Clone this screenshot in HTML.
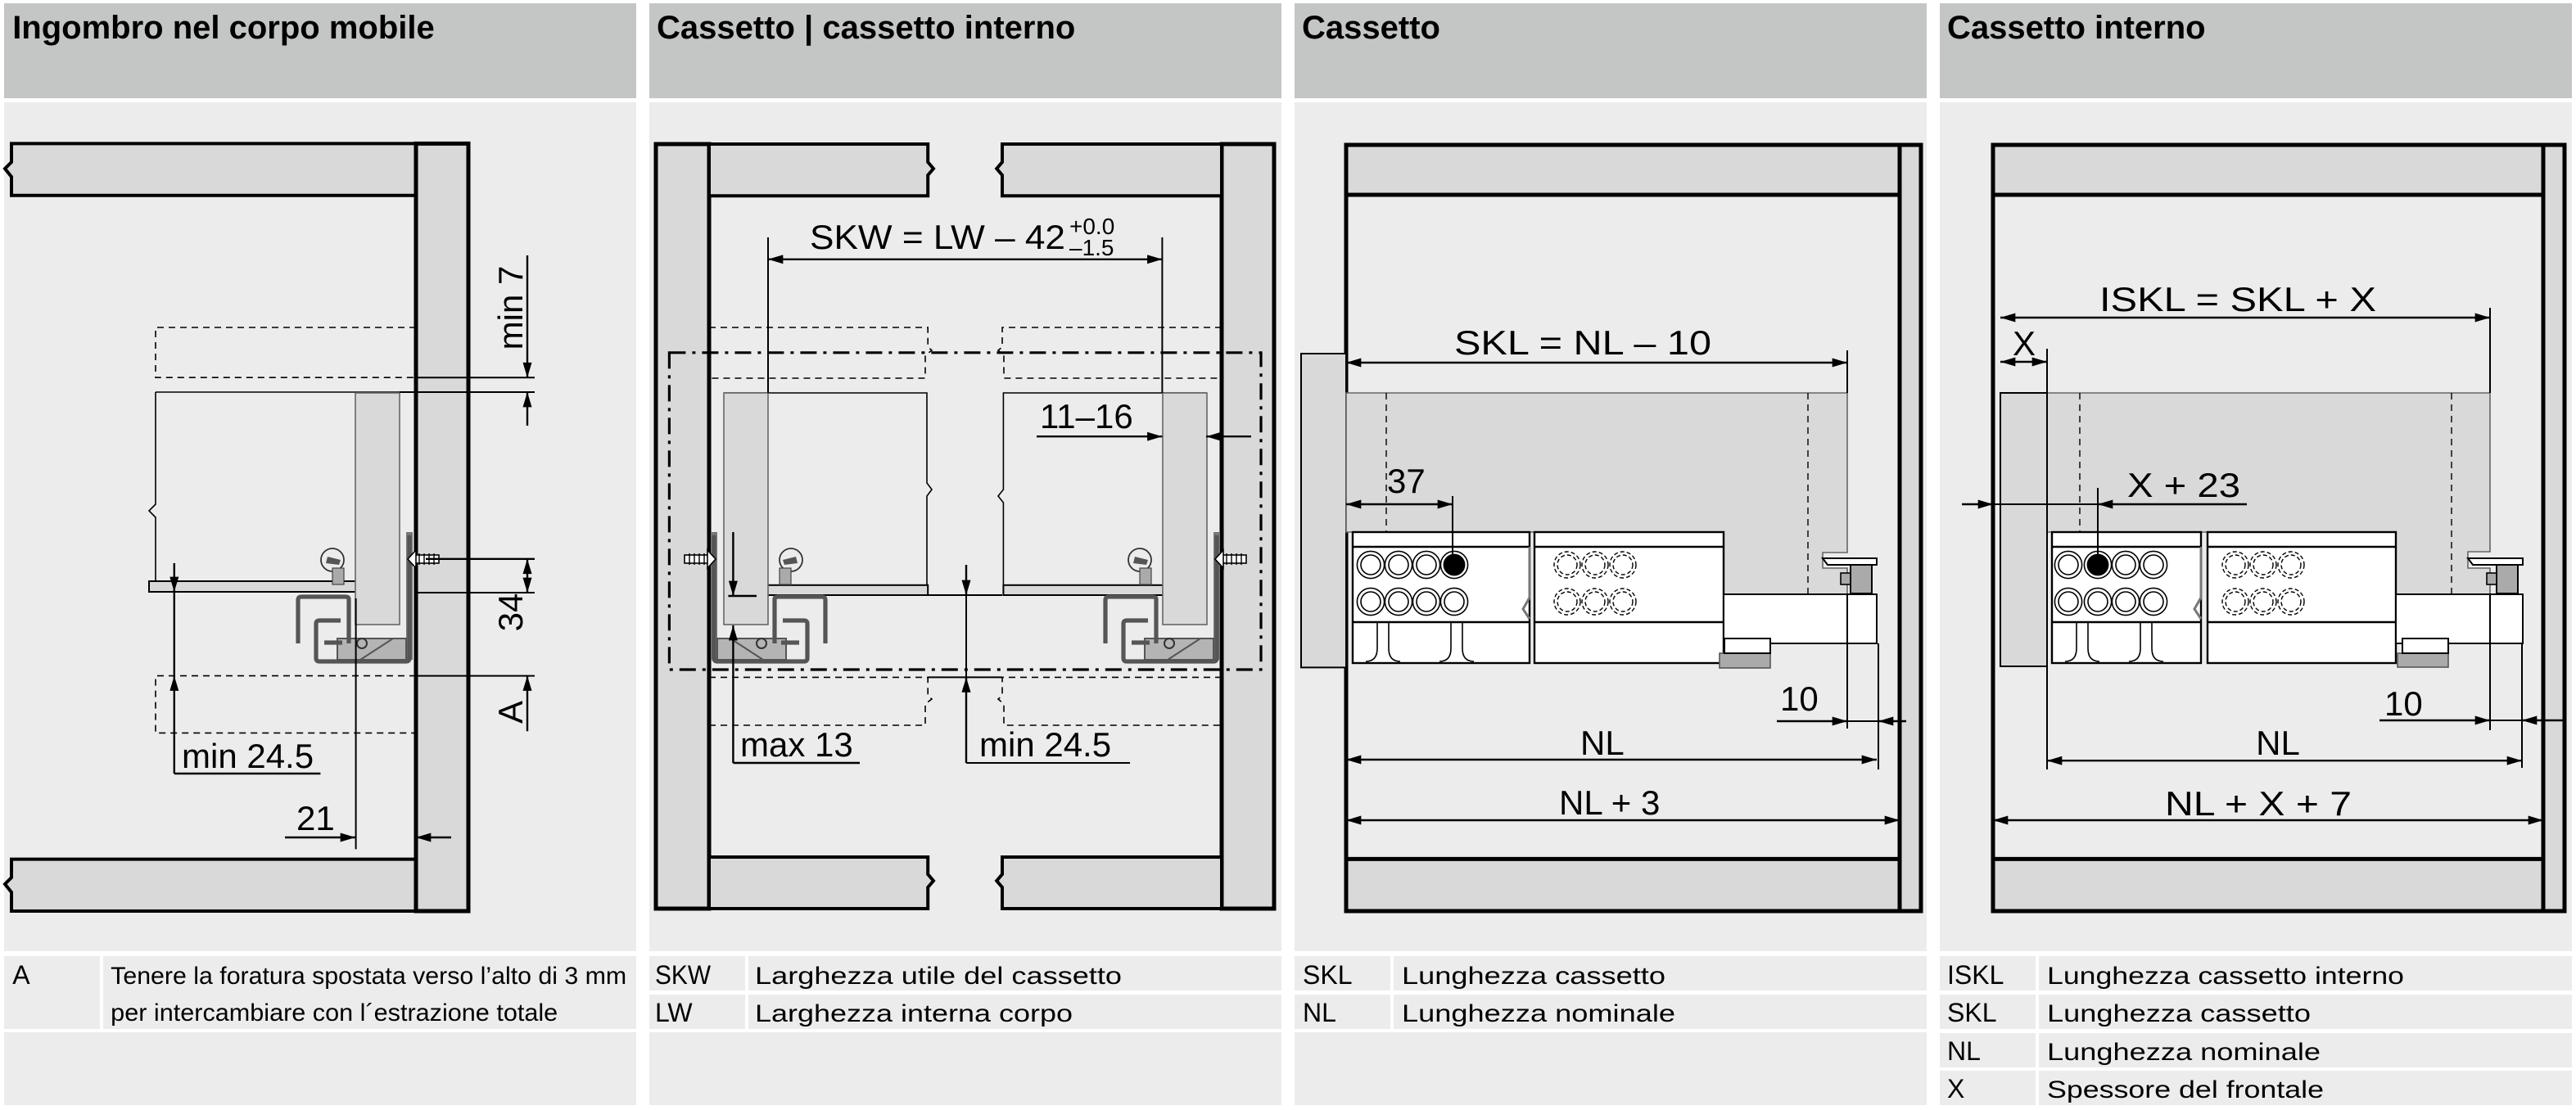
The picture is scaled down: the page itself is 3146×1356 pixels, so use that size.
<!DOCTYPE html>
<html><head><meta charset="utf-8">
<style>
html,body{margin:0;padding:0;background:#fff;width:3146px;height:1356px;overflow:hidden}
svg{display:block}
text{font-family:"Liberation Sans",Arial,sans-serif;fill:#000}
.h{font-weight:bold;font-size:20px}
.d{font-size:21px}
.l{font-size:15px}
.k{font-size:16px}
</style></head><body>
<svg width="3146" height="1356" viewBox="0 0 1573 678" preserveAspectRatio="none" xmlns="http://www.w3.org/2000/svg">
<defs>
<marker id="a" viewBox="0 0 10 6" refX="10" refY="3" markerWidth="10" markerHeight="5.5" markerUnits="userSpaceOnUse" orient="auto-start-reverse"><path d="M0,0 L10,3 L0,6z" fill="#000"/></marker>
<g id="run">
 <rect x="442" y="240" width="27" height="141.5" fill="#d9d9d9" stroke="#666" stroke-width="0.8"/>
 <rect x="434" y="325" width="4" height="78" fill="#777"/>
 <path d="M438,390 H480 V403 H438Z" fill="#b4b4b4" stroke="#555" stroke-width="1"/>
 <path d="M446,390 L466,403" stroke="#555" stroke-width="1"/>
 <circle cx="465" cy="393" r="3" fill="none" stroke="#333" stroke-width="1"/>
 <path d="M473,393 V366 Q473,364.5 475,364.5 H502 Q504,364.5 504,366.5 V393" fill="none" stroke="#555" stroke-width="2.6"/>
 <path d="M478,379 H491 Q493,379 493,381 V402 Q493,404 491,404 H438 Q436,404 436,402 V327" fill="none" stroke="#555" stroke-width="2.6"/>
 <path d="M477,392.5 H488" stroke="#555" stroke-width="2.6"/>
 <circle cx="483" cy="342" r="7" fill="none" stroke="#333" stroke-width="0.9"/>
 <rect x="476" y="347" width="7" height="10" fill="#aaa" stroke="#444" stroke-width="0.6"/>
 <path d="M478,342 L486,340 L487,344 L479,345Z" fill="#555"/>
 <rect x="418" y="339" width="15" height="5" fill="#fff" stroke="#000" stroke-width="0.8"/>
 <path d="M421,338 V345 M424,338 V345 M427,338 V345 M430,338 V345" stroke="#000" stroke-width="0.7"/>
 <path d="M432,336 L437,341.5 L432,347Z" fill="#fff" stroke="#000" stroke-width="0.8"/>
</g>
</defs>
<rect width="1573" height="678" fill="#fff"/>

<g fill="#c4c6c5">
<rect x="2.5" y="2" width="386" height="58"/><rect x="396.5" y="2" width="386" height="58"/>
<rect x="790.5" y="2" width="386" height="58"/><rect x="1184.5" y="2" width="386" height="58"/>
</g>
<g fill="#ececec">
<rect x="2.5" y="62.5" width="386" height="518.5"/><rect x="396.5" y="62.5" width="386" height="518.5"/>
<rect x="790.5" y="62.5" width="386" height="518.5"/><rect x="1184.5" y="62.5" width="386" height="518.5"/>
<rect x="2.5" y="584" width="58.5" height="44.5"/><rect x="63" y="584" width="325.5" height="44.5"/>
<rect x="2.5" y="630.5" width="386" height="44.5"/>
<rect x="396.5" y="584" width="58.5" height="21"/><rect x="457" y="584" width="325.5" height="21"/>
<rect x="396.5" y="607.5" width="58.5" height="21"/><rect x="457" y="607.5" width="325.5" height="21"/>
<rect x="396.5" y="630.5" width="386" height="44.5"/>
<rect x="790.5" y="584" width="58.5" height="21"/><rect x="851" y="584" width="325.5" height="21"/>
<rect x="790.5" y="607.5" width="58.5" height="21"/><rect x="851" y="607.5" width="325.5" height="21"/>
<rect x="790.5" y="630.5" width="386" height="44.5"/>
<rect x="1184.5" y="584" width="58.5" height="21"/><rect x="1245" y="584" width="325.5" height="21"/>
<rect x="1184.5" y="607.5" width="58.5" height="21"/><rect x="1245" y="607.5" width="325.5" height="21"/>
<rect x="1184.5" y="631" width="58.5" height="21"/><rect x="1245" y="631" width="325.5" height="21"/>
<rect x="1184.5" y="654" width="58.5" height="21"/><rect x="1245" y="654" width="325.5" height="21"/>
</g>

<text class="h" x="7.6" y="23.4">Ingombro nel corpo mobile</text>
<text class="h" x="401" y="23.4">Cassetto | cassetto interno</text>
<text class="h" x="795" y="23.4">Cassetto</text>
<text class="h" x="1189" y="23.4">Cassetto interno</text>

<text class="k" x="7.6" y="601">A</text>
<text class="l" x="67.6" y="601" textLength="315" lengthAdjust="spacingAndGlyphs">Tenere la foratura spostata verso l’alto di 3 mm</text>
<text class="l" x="67.6" y="623.4" textLength="273" lengthAdjust="spacingAndGlyphs">per intercambiare con l´estrazione totale</text>
<text class="k" x="400" y="601" textLength="34" lengthAdjust="spacingAndGlyphs">SKW</text>
<text class="l" x="461" y="601" textLength="224" lengthAdjust="spacingAndGlyphs">Larghezza utile del cassetto</text>
<text class="k" x="400" y="624">LW</text>
<text class="l" x="461" y="624" textLength="194" lengthAdjust="spacingAndGlyphs">Larghezza interna corpo</text>
<text class="k" x="795.5" y="601">SKL</text>
<text class="l" x="856" y="601" textLength="161" lengthAdjust="spacingAndGlyphs">Lunghezza cassetto</text>
<text class="k" x="795.5" y="624">NL</text>
<text class="l" x="856" y="624" textLength="167" lengthAdjust="spacingAndGlyphs">Lunghezza nominale</text>
<text class="k" x="1189" y="601">ISKL</text>
<text class="l" x="1250" y="601" textLength="218" lengthAdjust="spacingAndGlyphs">Lunghezza cassetto interno</text>
<text class="k" x="1189" y="624">SKL</text>
<text class="l" x="1250" y="624" textLength="161" lengthAdjust="spacingAndGlyphs">Lunghezza cassetto</text>
<text class="k" x="1189" y="647.5">NL</text>
<text class="l" x="1250" y="647.5" textLength="167" lengthAdjust="spacingAndGlyphs">Lunghezza nominale</text>
<text class="k" x="1189" y="670.5">X</text>
<text class="l" x="1250" y="670.5" textLength="169" lengthAdjust="spacingAndGlyphs">Spessore del frontale</text>

<!-- PANEL 1 -->
<g stroke="#000" fill="#d9d9d9">
<path d="M7,87.7 H254 V119.4 H7 V108 L3,103 L7,99 Z" stroke-width="2"/>
<path d="M7,524.8 H254 V556.5 H7 V545 L3,540 L7,536 Z" stroke-width="2"/>
<rect x="254" y="87.7" width="32" height="468.8" stroke-width="2.5"/>
</g>
<g fill="none" stroke="#000" stroke-width="0.8" stroke-dasharray="4,3">
<path d="M254,200 H95 V230.6 H254"/>
<path d="M254,412.8 H95 V447.7 H254"/>
</g>
<path d="M95,239.5 H244 M95,239.5 V308 L91,312 L95,316 V355" fill="none" stroke="#000" stroke-width="0.8"/>
<rect x="91" y="355" width="133.5" height="6.5" fill="#d9d9d9" stroke="#000" stroke-width="1"/>
<use href="#run" transform="translate(686,0) scale(-1,1)"/>
<g stroke="#000" stroke-width="1">
<path d="M254,230.6 H326.5 M244,239.5 H326.5 M254,362 H326.5 M254,412.8 H326.5"/>
<path d="M260,341.4 H326.5" stroke-width="1.2"/>
</g>
<g stroke="#000" stroke-width="1.2" fill="none">
<path d="M322,156 V230.6" marker-end="url(#a)"/>
<path d="M322,260 V239.5" marker-end="url(#a)"/>
<path d="M322,341.4 V362" marker-start="url(#a)" marker-end="url(#a)"/>
<path d="M322,446.6 V412.8" marker-end="url(#a)"/>
<path d="M106.4,344 V361.5" marker-end="url(#a)"/>
<path d="M106.4,472.5 V412.8" marker-end="url(#a)"/>
<path d="M106.4,361.5 V412.8 M106.4,472.5 H195.7"/>
<path d="M174,511.5 H217" marker-end="url(#a)"/>
<path d="M275.5,511.5 H254" marker-end="url(#a)"/>
<path d="M217.3,365.5 V518.7" stroke-width="1"/>
</g>
<text class="d" transform="translate(319,188) rotate(-90)" text-anchor="middle">min 7</text>
<text class="d" transform="translate(319,374) rotate(-90)" text-anchor="middle">34</text>
<text class="d" transform="translate(319,435) rotate(-90)" text-anchor="middle">A</text>
<text class="d" x="111" y="469">min 24.5</text>
<text class="d" x="181" y="507">21</text>

<!-- PANEL 2 -->
<g stroke="#000" fill="#d9d9d9" stroke-width="2">
<rect x="400.5" y="88" width="32.5" height="467" stroke-width="2.5"/>
<rect x="746" y="88" width="32" height="467" stroke-width="2.5"/>
<path d="M433,88 H566.6 V99 L570,103 L566.6,107 V119.6 H433Z"/>
<path d="M746,88 H612 V99 L608.6,103 L612,107 V119.6 H746Z"/>
<path d="M433,523.5 H566.6 V534 L570,538 L566.6,542 V555 H433Z"/>
<path d="M746,523.5 H612 V534 L608.6,538 L612,542 V555 H746Z"/>
</g>
<g fill="none" stroke="#000" stroke-width="0.8" stroke-dasharray="4,3">
<path d="M433,200 H566.6 V212 L569,214 L565,217 V231 H433"/>
<path d="M746,200 H612 V212 L609.5,214 L613,217 V231 H746"/>
<path d="M433,413.7 H566.6 V425 L569,427 L565,430 V443 H433"/>
<path d="M746,413.7 H612 V425 L609.5,427 L613,430 V443 H746"/>
</g>
<path d="M408.7,215.4 H770 V409 H408.7Z" fill="none" stroke="#000" stroke-width="1.6" stroke-dasharray="10,4,2,4"/>
<g fill="none" stroke="#000" stroke-width="0.8">
<path d="M442,240 H566 V295 L569,299 L566,303 V357"/>
<path d="M736.5,240 H612.7 V299 L609.5,303 L612.7,307 V357"/>
</g>
<rect x="461.7" y="357.4" width="104.9" height="6.1" fill="#d9d9d9" stroke="#000" stroke-width="1"/>
<rect x="612.7" y="357.4" width="111.3" height="6.1" fill="#d9d9d9" stroke="#000" stroke-width="1"/>
<use href="#run"/>
<use href="#run" transform="translate(1179,0) scale(-1,1)"/>
<g stroke="#000" stroke-width="1.2" fill="none">
<path d="M469,145 V240 M709.7,145 V240" stroke-width="1"/>
<path d="M469,158.4 H709.7" marker-start="url(#a)" marker-end="url(#a)"/>
<path d="M633,266.6 H709.7" marker-end="url(#a)"/>
<path d="M764,266.6 H736.5" marker-end="url(#a)"/>
<path d="M447.7,325 V364" marker-end="url(#a)"/>
<path d="M447.7,466 V382" marker-end="url(#a)"/>
<path d="M447.7,466 H525 M444.7,364 H462" />
<path d="M590,345 V363.5" marker-end="url(#a)"/>
<path d="M590,466 V413.7" marker-end="url(#a)"/>
<path d="M566.6,363.5 H612 M566.6,413.7 H612 M590,466 H690 M590,363.5 V413.7" stroke-width="1"/>
</g>
<text class="d" x="494.5" y="152" textLength="156" lengthAdjust="spacingAndGlyphs">SKW = LW – 42</text>
<text x="653" y="143" style="font-size:14px">+0.0</text>
<text x="653" y="156" style="font-size:14px">–1.5</text>
<text class="d" x="635" y="261.6">11–16</text>
<text class="d" x="452" y="462">max 13</text>
<text class="d" x="598" y="462">min 24.5</text>

<!-- PANEL 3 -->
<rect x="822" y="88.5" width="338" height="30.5" fill="#d9d9d9"/>
<rect x="822" y="524.7" width="338" height="32" fill="#d9d9d9"/>
<rect x="1160" y="88.5" width="13" height="468" fill="#d9d9d9"/>
<g fill="none" stroke="#000" stroke-width="2.5">
<rect x="822" y="88.5" width="351" height="468"/>
<path d="M822,119 H1160 M822,524.7 H1160 M1160,88.5 V556.5"/>
</g>
<rect x="794.5" y="216" width="27.5" height="191.7" fill="#d9d9d9" stroke="#000" stroke-width="1"/>
<path d="M822,240 H1128 V337.5 H1113 V347 H1128 V363 H1052 V325 H822Z" fill="#d9d9d9" stroke="#666" stroke-width="0.8"/>
<path d="M846.5,240 V325 M1104,240 V363" stroke="#000" stroke-width="0.7" stroke-dasharray="4,3"/>
<rect x="826" y="325" width="108" height="80" fill="#fff" stroke="#000" stroke-width="1.2"/>
<path d="M826,334 H934 M826,380 H934" stroke="#000" stroke-width="1.2"/>
<path d="M841,380 V396 Q841,404 834,404 M848,380 V396 Q848,404 855,404 M886,380 V396 Q886,404 879,404 M893,380 V396 Q893,404 900,404" fill="none" stroke="#000" stroke-width="0.8"/>
<rect x="937" y="325" width="115.5" height="80" fill="#fff" stroke="#000" stroke-width="1.2"/>
<path d="M937,334 H1052.5 M937,380 H1052.5" stroke="#000" stroke-width="1.2"/>
<path d="M934,334 V365 L930,372 L934,378" fill="none" stroke="#777" stroke-width="1.5"/>
<g fill="#fff" stroke="#000" stroke-width="0.8">
<circle cx="837" cy="345" r="8.3"/><circle cx="837" cy="345" r="6"/>
<circle cx="854" cy="345" r="8.3"/><circle cx="854" cy="345" r="6"/>
<circle cx="871" cy="345" r="8.3"/><circle cx="871" cy="345" r="6"/>
<circle cx="888" cy="345" r="8.3"/><circle cx="888" cy="345" r="6.3" fill="#000"/>
<circle cx="837" cy="367.5" r="8.3"/><circle cx="837" cy="367.5" r="6"/>
<circle cx="854" cy="367.5" r="8.3"/><circle cx="854" cy="367.5" r="6"/>
<circle cx="871" cy="367.5" r="8.3"/><circle cx="871" cy="367.5" r="6"/>
<circle cx="888" cy="367.5" r="8.3"/><circle cx="888" cy="367.5" r="6"/>
</g>
<g fill="none" stroke="#000" stroke-width="0.7" stroke-dasharray="2.5,1.5">
<circle cx="957" cy="345" r="8"/><circle cx="957" cy="345" r="6"/>
<circle cx="974" cy="345" r="8"/><circle cx="974" cy="345" r="6"/>
<circle cx="991" cy="345" r="8"/><circle cx="991" cy="345" r="6"/>
<circle cx="957" cy="367.5" r="8"/><circle cx="957" cy="367.5" r="6"/>
<circle cx="974" cy="367.5" r="8"/><circle cx="974" cy="367.5" r="6"/>
<circle cx="991" cy="367.5" r="8"/><circle cx="991" cy="367.5" r="6"/>
</g>
<rect x="1052.5" y="363" width="93.5" height="30" fill="#fff" stroke="#000" stroke-width="1"/>
<rect x="1050" y="399" width="31" height="9" fill="#aaa" stroke="#555" stroke-width="0.8"/>
<rect x="1053" y="390" width="28" height="9" fill="#fff" stroke="#000" stroke-width="1"/>
<path d="M1113,341 H1146 V345 H1116Z" fill="#fff" stroke="#000" stroke-width="1"/>
<rect x="1130" y="345" width="13" height="17.5" fill="#aaa" stroke="#000" stroke-width="1"/>
<rect x="1124" y="350" width="6" height="7" fill="#aaa" stroke="#000" stroke-width="0.8"/>
<g stroke="#000" stroke-width="1.2" fill="none">
<path d="M1128,214 V240 M887,303 V346 M1128,363 V445 M1147,393 V470" stroke-width="1"/>
<path d="M822,221.5 H1128" marker-start="url(#a)" marker-end="url(#a)"/>
<path d="M822,308 H887" marker-start="url(#a)" marker-end="url(#a)"/>
<path d="M1085,440.5 H1128" marker-end="url(#a)"/>
<path d="M1164,440.5 H1147" marker-end="url(#a)"/>
<path d="M1128,440.5 H1147" stroke-width="1"/>
<path d="M822,464 H1146" marker-start="url(#a)" marker-end="url(#a)"/>
<path d="M822,501 H1160" marker-start="url(#a)" marker-end="url(#a)"/>
</g>
<text class="d" x="888" y="216.6" textLength="157" lengthAdjust="spacingAndGlyphs">SKL = NL – 10</text>
<text class="d" x="847" y="301">37</text>
<text class="d" x="1087" y="434">10</text>
<text class="d" x="965" y="461">NL</text>
<text class="d" x="952" y="497.5">NL + 3</text>

<!-- PANEL 4 -->
<rect x="1217" y="88.5" width="336" height="30.5" fill="#d9d9d9"/>
<rect x="1217" y="524.7" width="336" height="32" fill="#d9d9d9"/>
<rect x="1553" y="88.5" width="13" height="468" fill="#d9d9d9"/>
<g fill="none" stroke="#000" stroke-width="2.5">
<rect x="1217" y="88.5" width="349" height="468"/>
<path d="M1217,119 H1553 M1217,524.7 H1553 M1553,88.5 V556.5"/>
</g>
<rect x="1221.5" y="240" width="28.5" height="167" fill="#d9d9d9" stroke="#000" stroke-width="1"/>
<path d="M1250,240 H1520.5 V337 H1507 V347 H1520.5 V363 H1463 V325 H1250Z" fill="#d9d9d9" stroke="#666" stroke-width="0.8"/>
<path d="M1270,240 V325 M1497,240 V363" stroke="#000" stroke-width="0.7" stroke-dasharray="4,3"/>
<rect x="1253" y="325" width="91" height="80" fill="#fff" stroke="#000" stroke-width="1.2"/>
<path d="M1253,334 H1344 M1253,380 H1344" stroke="#000" stroke-width="1.2"/>
<path d="M1268,380 V396 Q1268,404 1261,404 M1275,380 V396 Q1275,404 1282,404 M1307,380 V396 Q1307,404 1300,404 M1314,380 V396 Q1314,404 1321,404" fill="none" stroke="#000" stroke-width="0.8"/>
<rect x="1348" y="325" width="115" height="80" fill="#fff" stroke="#000" stroke-width="1.2"/>
<path d="M1348,334 H1463 M1348,380 H1463" stroke="#000" stroke-width="1.2"/>
<path d="M1344,334 V365 L1340,372 L1344,378" fill="none" stroke="#777" stroke-width="1.5"/>
<g fill="#fff" stroke="#000" stroke-width="0.8">
<circle cx="1263" cy="345" r="8.3"/><circle cx="1263" cy="345" r="6"/>
<circle cx="1281" cy="345" r="8.3"/><circle cx="1281" cy="345" r="6.3" fill="#000"/>
<circle cx="1298" cy="345" r="8.3"/><circle cx="1298" cy="345" r="6"/>
<circle cx="1315" cy="345" r="8.3"/><circle cx="1315" cy="345" r="6"/>
<circle cx="1263" cy="367.5" r="8.3"/><circle cx="1263" cy="367.5" r="6"/>
<circle cx="1281" cy="367.5" r="8.3"/><circle cx="1281" cy="367.5" r="6"/>
<circle cx="1298" cy="367.5" r="8.3"/><circle cx="1298" cy="367.5" r="6"/>
<circle cx="1315" cy="367.5" r="8.3"/><circle cx="1315" cy="367.5" r="6"/>
</g>
<g fill="none" stroke="#000" stroke-width="0.7" stroke-dasharray="2.5,1.5">
<circle cx="1365" cy="345" r="8"/><circle cx="1365" cy="345" r="6"/>
<circle cx="1382" cy="345" r="8"/><circle cx="1382" cy="345" r="6"/>
<circle cx="1399" cy="345" r="8"/><circle cx="1399" cy="345" r="6"/>
<circle cx="1365" cy="367.5" r="8"/><circle cx="1365" cy="367.5" r="6"/>
<circle cx="1382" cy="367.5" r="8"/><circle cx="1382" cy="367.5" r="6"/>
<circle cx="1399" cy="367.5" r="8"/><circle cx="1399" cy="367.5" r="6"/>
</g>
<rect x="1463" y="363" width="77.5" height="30" fill="#fff" stroke="#000" stroke-width="1"/>
<rect x="1464" y="399" width="31" height="8.5" fill="#aaa" stroke="#555" stroke-width="0.8"/>
<rect x="1467" y="390" width="28" height="9" fill="#fff" stroke="#000" stroke-width="1"/>
<path d="M1507,341 H1540.5 V345 H1510Z" fill="#fff" stroke="#000" stroke-width="1"/>
<rect x="1524.5" y="345" width="13" height="17.5" fill="#aaa" stroke="#000" stroke-width="1"/>
<rect x="1518.5" y="350" width="6" height="7" fill="#aaa" stroke="#000" stroke-width="0.8"/>
<g stroke="#000" stroke-width="1.2" fill="none">
<path d="M1520.5,188 V240 M1250,213 V470 M1281,298 V344 M1520.5,363 V446 M1540,393 V469" stroke-width="1"/>
<path d="M1221.5,194 H1520.5" marker-start="url(#a)" marker-end="url(#a)"/>
<path d="M1221.5,221 H1250" marker-start="url(#a)" marker-end="url(#a)"/>
<path d="M1198,308 H1217" marker-end="url(#a)"/>
<path d="M1372,308 H1281" marker-end="url(#a)"/>
<path d="M1217,308 H1281" stroke-width="1"/>
<path d="M1453,440 H1520.5" marker-end="url(#a)"/>
<path d="M1566,440 H1540" marker-end="url(#a)"/>
<path d="M1520.5,440 H1540" stroke-width="1"/>
<path d="M1250,464.6 H1540" marker-start="url(#a)" marker-end="url(#a)"/>
<path d="M1217,501 H1553" marker-start="url(#a)" marker-end="url(#a)"/>
</g>
<text class="d" x="1282" y="190" textLength="169" lengthAdjust="spacingAndGlyphs">ISKL = SKL + X</text>
<text class="d" x="1236" y="217" text-anchor="middle">X</text>
<text class="d" x="1299" y="303.5" textLength="69" lengthAdjust="spacingAndGlyphs">X + 23</text>
<text class="d" x="1456" y="437">10</text>
<text class="d" x="1391" y="461" text-anchor="middle">NL</text>
<text class="d" x="1322" y="498" textLength="114" lengthAdjust="spacingAndGlyphs">NL + X + 7</text>
</svg>
</body></html>
